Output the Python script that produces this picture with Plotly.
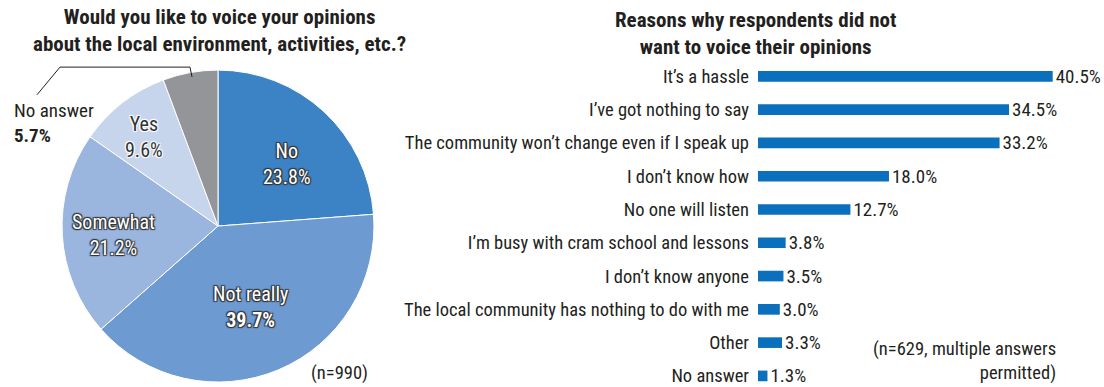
import math
import plotly.graph_objects as go

W, H = 1104, 387

# ---- Pie data ----
pie_labels = ["No", "Not really", "Somewhat", "Yes", "No answer"]
pie_values = [23.8, 39.7, 21.2, 9.6, 5.7]
pie_colors = ["#3b83c5", "#6d9ad1", "#9ab5de", "#c6d5ec", "#939598"]

# ---- Bar data ----
bar_labels = [
    "It\u2019s a hassle",
    "I\u2019ve got nothing to say",
    "The community won\u2019t change even if I speak up",
    "I don\u2019t know how",
    "No one will listen",
    "I\u2019m busy with cram school and lessons",
    "I don\u2019t know anyone",
    "The local community has nothing to do with me",
    "Other",
    "No answer",
]
bar_values = [40.5, 34.5, 33.2, 18.0, 12.7, 3.8, 3.5, 3.0, 3.3, 1.3]
bar_text = [f"{v:.1f}%" for v in bar_values]

FONT = "Liberation Sans Narrow, Roboto Condensed, DejaVu Sans Condensed, Arial Narrow, sans-serif"
TXT = "#231f20"

halo_dark = "1px 1px 1px #333, -1px -1px 1px #333, 1px -1px 1px #333, -1px 1px 1px #333"
halo_light = "1px 1px 1px #fff, -1px -1px 1px #fff, 1px -1px 1px #fff, -1px 1px 1px #fff"

# pie geometry (pixels) and label placement style (radius fraction per slice)
PIE_CX, PIE_CY, PIE_R = 218, 229, 158
LABEL_CY = PIE_CY + 5
label_rfrac = {"No": 0.61, "Not really": 0.53, "Somewhat": 0.665, "Yes": 0.76}
label_dang = {"No": 2.5, "Not really": 0.0, "Somewhat": 1.0, "Yes": 0.0}

fig = go.Figure()

fig.add_trace(go.Pie(
    labels=pie_labels,
    values=pie_values,
    textinfo="none",
    sort=False,
    direction="clockwise",
    rotation=0,
    marker=dict(colors=pie_colors, line=dict(color="white", width=1)),
    domain=dict(x=[(PIE_CX - PIE_R) / W, (PIE_CX + PIE_R) / W], y=[0, 2 * PIE_R / H]),
    showlegend=False,
    hoverinfo="label+percent",
))

fig.add_trace(go.Bar(
    x=bar_values,
    y=bar_labels,
    orientation="h",
    width=0.32,
    marker=dict(color="#0a70bd", line=dict(width=0)),
    text=bar_text,
    textposition="outside",
    constraintext="none",
    cliponaxis=False,
    textfont=dict(family=FONT, size=19, color=TXT),
    xaxis="x",
    yaxis="y",
    showlegend=False,
))

fig.update_layout(
    width=W, height=H,
    margin=dict(l=0, r=0, t=0, b=0),
    paper_bgcolor="white",
    plot_bgcolor="white",
    font=dict(family=FONT, color=TXT),
    uniformtext=dict(minsize=19, mode="show"),
    xaxis=dict(domain=[758 / W, 1100 / W], range=[0, 47], visible=False, fixedrange=True),
    yaxis=dict(
        domain=[0, 326.5 / H],
        type="category",
        categoryorder="array",
        categoryarray=bar_labels,
        range=[9.183, -0.5],
        showgrid=False, zeroline=False, showline=False,
        ticks="", ticklabelstandoff=8,
        tickfont=dict(family=FONT, size=18.5, color=TXT),
    ),
)

annots = [
    dict(x=219 / W, y=1 - 31 / H, text="<b>Would you like to voice your opinions<br>about the local environment, activities, etc.?</b>",
         font=dict(family=FONT, size=21, color=TXT), xanchor="center", yanchor="middle"),
    dict(x=755 / W, y=1 - 34 / H, text="<b>Reasons why respondents did not<br>want to voice their opinions</b>",
         font=dict(family=FONT, size=21, color=TXT), xanchor="center", yanchor="middle"),
    dict(x=12 / W, y=1 - 125 / H, text="No answer<br><b>5.7%</b>", align="left",
         font=dict(family=FONT, size=19, color=TXT), xanchor="left", yanchor="middle"),
    dict(x=370 / W, y=1 - 378 / H, text="(n=990)",
         font=dict(family=FONT, size=18.5, color=TXT), xanchor="right", yanchor="middle"),
    dict(x=1058 / W, y=1 - 366 / H, text="(n=629, multiple answers<br>permitted)", align="right",
         font=dict(family=FONT, size=18.5, color=TXT), xanchor="right", yanchor="middle"),
]

# in-slice labels placed along each slice's mid-angle (computed from the data)
total = sum(pie_values)
cum = 0.0
for lab, v in zip(pie_labels, pie_values):
    mid = (cum + v / 2) / total * 360.0
    cum += v
    if lab not in label_rfrac:
        continue
    ang = math.radians(mid + label_dang[lab])
    r = PIE_R * label_rfrac[lab]
    px = PIE_CX + r * math.sin(ang)
    py = LABEL_CY - r * math.cos(ang)
    pct = f"<b>{v:.1f}%</b>" if lab == "Not really" else f"{v:.1f}%"
    dark = lab == "Yes"
    annots.append(dict(
        x=px / W, y=1 - py / H, text=f"{lab}<br>{pct}", align="center",
        xanchor="center", yanchor="middle",
        font=dict(family=FONT, size=20, color="#333333" if dark else "white",
                  shadow=halo_light if dark else halo_dark),
    ))

for a in annots:
    a.update(xref="paper", yref="paper", showarrow=False)
fig.update_layout(annotations=annots)

fig.add_shape(type="path", xref="paper", yref="paper",
              path=f"M {37/W} {1-96/H} L {60/W} {1-68/H} L {190/W} {1-68/H} L {192/W} {1-78/H}",
              line=dict(color="#231f20", width=1))

fig.write_html("out.html")
